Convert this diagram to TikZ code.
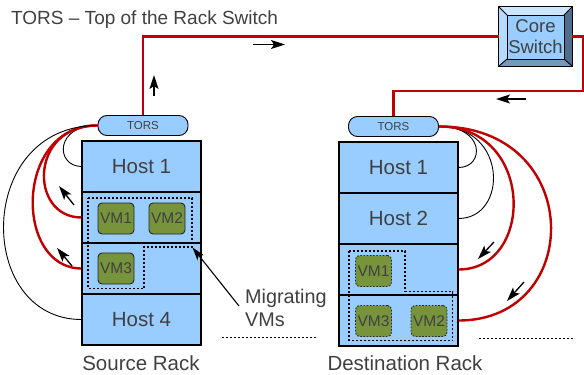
\documentclass[tikz,border=0pt]{standalone}
\usepackage{fontspec}
\setmainfont{Liberation Sans}
\usetikzlibrary{arrows.meta}

\definecolor{rackblue}{HTML}{99CCFF}
\definecolor{linkred}{HTML}{C00000}
\definecolor{vmgreen}{HTML}{77933C}
\definecolor{txtgrey}{HTML}{404040}
\definecolor{bevtop}{HTML}{CCE6FF}
\definecolor{bevleft}{HTML}{B5D9FF}
\definecolor{bevright}{HTML}{4F6D8F}
\definecolor{bevbottom}{HTML}{7598BF}

\tikzset{
  hostrow/.style={draw=black, line width=1.1pt, fill=rackblue, minimum width=119pt,
    minimum height=51pt, inner sep=0pt, text=txtgrey, font=\fontsize{20.5}{20.5}\selectfont},
  torsbox/.style={draw=black, line width=0.9pt, fill=rackblue, rounded corners=9pt,
    minimum width=90pt, minimum height=20pt, inner sep=0pt, text=txtgrey,
    font=\fontsize{11.5}{12}\selectfont},
  vmbox/.style={draw=black!85, line width=0.9pt, fill=vmgreen, rounded corners=4pt,
    minimum width=36pt, minimum height=31pt, inner sep=0pt, text=txtgrey,
    font=\fontsize{15.5}{15.5}\selectfont},
  vmghost/.style={vmbox, dash pattern=on 1.6pt off 1.6pt},
  group/.style={draw=black, line width=1.1pt, dash pattern=on 2pt off 2pt},
  sepline/.style={draw=black, line width=0.9pt, dash pattern=on 2pt off 2pt},
  redlink/.style={draw=linkred, line width=2.4pt},
  blklink/.style={draw=black, line width=0.9pt},
  flow/.style={draw=black, line width=1.3pt, -{Stealth[length=14pt,width=9pt,inset=3pt]}},
  pointer/.style={draw=black, line width=1.1pt, -{Stealth[length=13pt,width=8pt,inset=3pt]}},
  label/.style={text=txtgrey, inner sep=0pt, font=\fontsize{19}{23}\selectfont},
  biglabel/.style={label, font=\fontsize{20.5}{23}\selectfont},
}

\begin{document}
\begin{tikzpicture}[x=1pt, y=-1pt]
\useasboundingbox (0,0) rectangle (584,375);

% title
\node[label, anchor=west] (title) at (11,20) {TORS -- Top of the Rack Switch};

% core switch (bevelled button)
\node[minimum width=73pt, minimum height=59pt, inner sep=0pt] (core) at (535.5,36.5) {};
\fill[bevtop] (499,7) -- (572,7) -- (564,15) -- (507,15) -- cycle;
\fill[bevleft] (499,7) -- (507,15) -- (507,59) -- (499,66) -- cycle;
\fill[bevright] (572,7) -- (572,66) -- (564,59) -- (564,15) -- cycle;
\fill[bevbottom] (499,66) -- (572,66) -- (564,59) -- (507,59) -- cycle;
\draw[line width=0.9pt] (499,7) -- (507,15) (572,7) -- (564,15)
  (499,66) -- (507,59) (572,66) -- (564,59);
\draw[line width=0.9pt, fill=rackblue] (507,15) rectangle (564,59);
\draw[line width=1.1pt] (core.north west) rectangle (core.south east);
\node[text=txtgrey, align=center, font=\fontsize{18.5}{21}\selectfont] (corelbl) at (535.5,37) {Core\\Switch};

% source rack
\node[hostrow] (sh1) at (141.5,166.5) {Host 1};
\node[hostrow] (sh2) at (141.5,217.5) {};
\node[hostrow] (sh3) at (141.5,268.5) {};
\node[hostrow] (sh4) at (141.5,319.5) {Host 4};
\node[torsbox] (stors) at (143,125.5) {TORS};

\node[vmbox] (svm1) at (116,218.5) {VM1};
\node[vmbox] (svm2) at (167,218.5) {VM2};
\node[vmbox] (svm3) at (116,268.5) {VM3};
\draw[group] (88,198) -- (192,198) -- (192,247) -- (144,247) -- (144,288.5) -- (88,288.5) -- cycle;
\coordinate (sgc) at (192.5,247.5);

% destination rack
\node[hostrow] (dh1) at (398.5,167.5) {Host 1};
\node[hostrow] (dh2) at (398.5,218.5) {Host 2};
\node[hostrow] (dh3) at (398.5,269.5) {};
\node[hostrow] (dh4) at (398.5,320.5) {};
\node[torsbox] (dtors) at (393.5,126.5) {TORS};

\draw[group] (349,251) -- (405,251) -- (405,291.5) -- (452.5,291.5) -- (452.5,340.5) -- (349,340.5) -- cycle;
\node[vmghost] (dvm1) at (373.5,271) {VM1};
\node[vmghost] (dvm3) at (373.5,321) {VM3};
\node[vmghost] (dvm2) at (429,321) {VM2};

% links between the switches
\draw[redlink] (stors.north) |- (core.west);
\draw[redlink] (core.east) -- (583,36.5) -- (583,91) -| (dtors.north);
\draw[flow] (154,96) -- (154,75);
\draw[flow] (253,44.5) -- (285,44.5);
\draw[flow] (526,99) -- (496,99);

% source TORS to its hosts
\draw[blklink] (stors.west) .. controls (55,125) and (55,166) .. (sh1.west);
\draw[redlink] (stors.west) .. controls (29,125) and (29,217.5) .. (sh2.west);
\draw[redlink] (stors.west) .. controls (14,125) and (14,268.5) .. (sh3.west);
\draw[blklink] (stors.west) .. controls (-25,125) and (-25,319.5) .. (sh4.west);
\draw[flow] (74,205) -- (59,186);
\draw[flow] (72,266) -- (57,248);

% destination TORS to its hosts
\draw[blklink] (dtors.east) .. controls (485,126) and (485,167.5) .. (dh1.east);
\draw[blklink] (dtors.east) .. controls (508,126) and (508,218.5) .. (dh2.east);
\draw[redlink] (dtors.east) .. controls (535,126) and (535,269.5) .. (dh3.east);
\draw[redlink] (dtors.east) .. controls (585,126) and (585,320.5) .. (dh4.east);
\draw[flow] (494,242) -- (478,259);
\draw[flow] (524,282) -- (507,301);

% annotation
\node[label, anchor=west, align=left, font=\fontsize{19.8}{23}\selectfont] (mig) at (245,307.5) {Migrating\\VMs};
\draw[pointer] (239,306) -- (sgc);
\draw[sepline] (222,337.5) -- (317,337.5);
\draw[sepline] (479,338.5) -- (574,338.5);

\node[biglabel] (srclbl) at (141,363.5) {Source Rack};
\node[biglabel] (dstlbl) at (405,363.5) {Destination Rack};
\end{tikzpicture}
\end{document}
